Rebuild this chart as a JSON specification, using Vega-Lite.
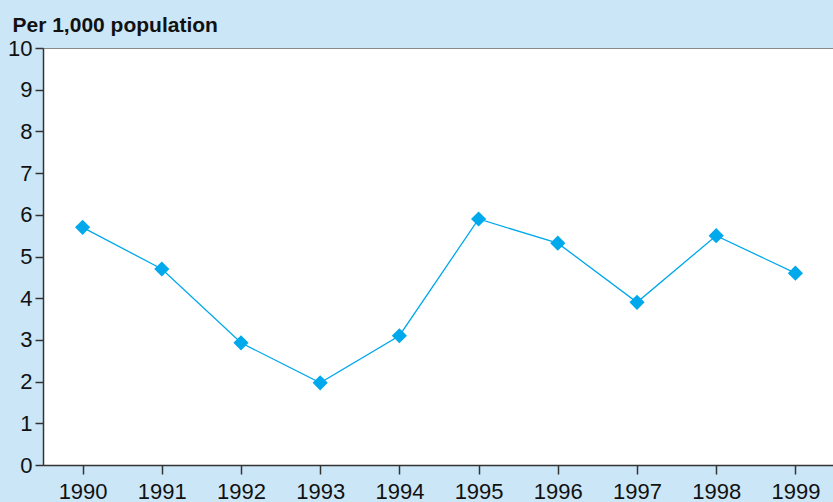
{
  "$schema": "https://vega.github.io/schema/vega-lite/v6.json",
  "width": 792,
  "height": 417,
  "autosize": {"type": "none"},
  "padding": {"left": 43, "top": 48, "right": 0, "bottom": 37},
  "background": "#cbe6f7",
  "config": {
    "view": {"fill": "white", "stroke": "#8a8a8a", "strokeWidth": 1},
    "font": "Liberation Sans",
    "axis": {
      "grid": false,
      "domainColor": "#333333",
      "domainWidth": 1.5,
      "tickColor": "#333333",
      "tickWidth": 1.5,
      "labelFont": "Liberation Sans",
      "labelFontSize": 22,
      "labelColor": "#111111"
    }
  },
  "data": {
    "values": [
      {"year": "1990", "rate": 5.7},
      {"year": "1991", "rate": 4.7},
      {"year": "1992", "rate": 2.93},
      {"year": "1993", "rate": 1.97},
      {"year": "1994", "rate": 3.1},
      {"year": "1995", "rate": 5.9},
      {"year": "1996", "rate": 5.32},
      {"year": "1997", "rate": 3.9},
      {"year": "1998", "rate": 5.5},
      {"year": "1999", "rate": 4.6}
    ]
  },
  "encoding": {
    "x": {
      "field": "year",
      "type": "ordinal",
      "scale": {"type": "point", "padding": 0.5},
      "axis": {"title": null, "labelAngle": 0, "tickSize": 9, "labelPadding": 7}
    },
    "y": {
      "field": "rate",
      "type": "quantitative",
      "scale": {"domain": [0, 10], "nice": false},
      "axis": {
        "values": [0,1,2,3,4,5,6,7,8,9,10],
        "tickSize": 8,
        "labelPadding": 3,
        "title": "Per 1,000 population",
        "titleAngle": 0,
        "titleX": -31,
        "titleY": -17,
        "titleAlign": "left",
        "titleBaseline": "alphabetic",
        "titleFont": "Liberation Sans",
        "titleFontSize": 21,
        "titleFontWeight": "bold",
        "titleColor": "#111111"
      }
    }
  },
  "layer": [
    {"mark": {"type": "line", "color": "#00a8ec", "strokeWidth": 1.3}},
    {"mark": {"type": "point", "shape": "diamond", "filled": true, "color": "#00a8ec", "opacity": 1, "size": 230}}
  ]
}
